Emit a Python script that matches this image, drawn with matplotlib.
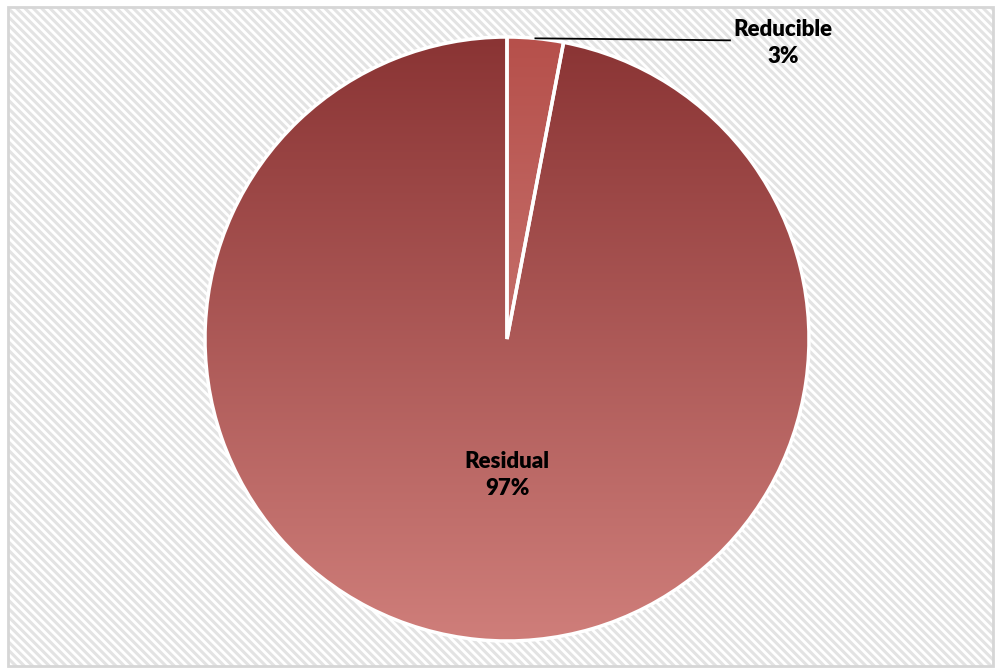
import matplotlib
matplotlib.use("Agg")
import matplotlib.pyplot as plt
import numpy as np
from matplotlib.colors import LinearSegmentedColormap
from matplotlib.patches import Rectangle

labels = ["Reducible", "Residual"]
values = [3, 97]
# gradient colors (top, bottom) per slice
grad_colors = [("#b6504b", "#d48e8a"), ("#8a3434", "#cf7e7a")]

plt.rcParams["hatch.linewidth"] = 2.2
plt.rcParams["hatch.color"] = "#e3e3e3"

W, H = 997, 670
fig = plt.figure(figsize=(W / 100, H / 100), dpi=100)
fig.patch.set_facecolor("white")
ax = fig.add_axes([0, 0, 1, 1])

# hatched chart area with border
bg = Rectangle((8, 4), 985, 659, facecolor="white", edgecolor="#e3e3e3",
               hatch="\\\\\\\\", linewidth=0, zorder=0)
ax.add_patch(bg)
ax.add_patch(Rectangle((8, 4), 985, 659, facecolor="none", edgecolor="#d6d6d6",
                       linewidth=2, zorder=0.5))

cx, cy, R = 507, 331, 302
wedges, _ = ax.pie(values, startangle=90, counterclock=False, center=(cx, cy),
                   radius=R, frame=True,
                   wedgeprops=dict(edgecolor="white", linewidth=2.5))
ax.set_xlim(0, W)
ax.set_ylim(0, H)
ax.set_aspect("equal")
ax.axis("off")

for w, (c_top, c_bot) in zip(wedges, grad_colors):
    cmap = LinearSegmentedColormap.from_list("g", [c_top, c_bot])
    grad = np.linspace(0, 1, 256).reshape(-1, 1)
    im = ax.imshow(grad, cmap=cmap, extent=[cx - R, cx + R, cy - R, cy + R],
                   origin="upper", aspect="auto", zorder=1)
    im.set_clip_path(w)
    w.set_facecolor("none")
    w.set_zorder(2)

font = dict(family=["Lato", "DejaVu Sans"], fontweight="heavy", fontsize=16,
            color="black", ha="center", va="center", linespacing=1.3)

# Reducible label with leader line
w0 = wedges[0]
mid0 = np.deg2rad((w0.theta1 + w0.theta2) / 2)
ex, ey = cx + R * np.cos(mid0), cy + R * np.sin(mid0)
ax.plot([ex, 730], [ey, ey - 2], color="black", linewidth=1.3, zorder=3)
ax.text(783, 627, "%s\n%d%%" % (labels[0], values[0]), zorder=4, **font)

# Residual label inside
ax.text(cx, 195, "%s\n%d%%" % (labels[1], values[1]), zorder=4, **font)

fig.savefig("out.png", dpi=100)
